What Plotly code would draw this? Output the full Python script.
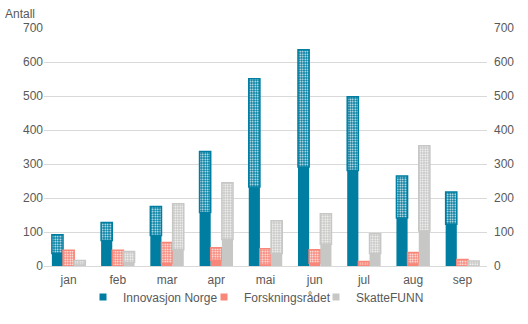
import plotly.graph_objects as go

months = ["jan", "feb", "mar", "apr", "mai", "jun", "jul", "aug", "sep"]
series = ["Innovasjon Norge", "Forskningsrådet", "SkatteFUNN"]
colors = ["#007ea1", "#f8877a", "#c7c8c6"]

# Total per month and the solid (lower) share of each total
totals = {
    "Innovasjon Norge": [92, 128, 175, 337, 551, 636, 498, 265, 218],
    "Forskningsrådet": [46, 46, 69, 54, 51, 48, 13, 40, 19],
    "SkatteFUNN": [16, 43, 183, 245, 133, 154, 95, 354, 15],
}
solid = {
    "Innovasjon Norge": [37, 75, 90, 157, 232, 291, 281, 141, 123],
    "Forskningsrådet": [0, 0, 7, 17, 3, 8, 2, 6, 0],
    "SkatteFUNN": [3, 11, 48, 78, 37, 64, 37, 103, 0],
}

text_color = "#595959"
grid_color = "#d9d9d9"
W, H = 528, 324

fig = go.Figure()
for i, (name, col) in enumerate(zip(series, colors)):
    lower = solid[name]
    upper = [t - s for t, s in zip(totals[name], lower)]
    fig.add_trace(go.Bar(
        x=months, y=lower, name=name, offsetgroup=str(i),
        marker=dict(color=col, line=dict(width=0)),
        showlegend=False,
    ))
    fig.add_trace(go.Bar(
        x=months, y=upper, base=lower, name=name, offsetgroup=str(i),
        marker=dict(
            color=col,
            line=dict(color=col, width=1.5),
            pattern=dict(shape=".", fgcolor="white", bgcolor=col,
                         size=2.5, solidity=0.35, fillmode="replace"),
        ),
        showlegend=False,
    ))

# one small legend per series so the keys sit close together
legend_ids = ["legend", "legend2", "legend3"]
legend_left = [83, 204, 316]
for name, col, lid in zip(series, colors, legend_ids):
    fig.add_trace(go.Scatter(
        x=[None], y=[None], mode="markers", name=name, legend=lid,
        marker=dict(symbol="square", size=7, color=col),
    ))

# invisible trace so the right-hand axis is drawn
fig.add_trace(go.Scatter(x=months, y=[0] * len(months), yaxis="y2",
                         mode="lines", line=dict(width=0),
                         showlegend=False, hoverinfo="skip"))

legend_style = dict(orientation="h", xref="container", yref="container",
                    xanchor="left", y=1 - 297 / H, yanchor="middle",
                    bgcolor="rgba(0,0,0,0)", itemwidth=30,
                    font=dict(size=12, color=text_color))

fig.update_layout(
    width=W, height=H,
    margin=dict(l=44, r=41, t=28, b=58, autoexpand=False),
    barmode="group", bargap=0.32, bargroupgap=0,
    plot_bgcolor="white", paper_bgcolor="white",
    font=dict(family="Liberation Sans, Arial, sans-serif", size=12, color=text_color),
    xaxis=dict(showgrid=False, showline=True, linecolor=grid_color, linewidth=1,
               ticks="", ticklabelstandoff=3, tickfont=dict(size=12, color=text_color)),
    yaxis=dict(range=[0, 700], dtick=100, showgrid=True, gridcolor=grid_color,
               gridwidth=1, zeroline=False, ticks="", showline=False,
               tickfont=dict(size=12, color=text_color)),
    yaxis2=dict(range=[0, 700], dtick=100, overlaying="y", side="right",
                showgrid=False, zeroline=False, ticks="", showline=False,
                ticklabelstandoff=6, tickfont=dict(size=12, color=text_color)),
    legend=dict(x=legend_left[0] / W, **legend_style),
    legend2=dict(x=legend_left[1] / W, **legend_style),
    legend3=dict(x=legend_left[2] / W, **legend_style),
    annotations=[dict(text="Antall", xref="paper", yref="paper", x=0, y=1,
                      xshift=-41, yshift=5, xanchor="left", yanchor="bottom",
                      showarrow=False, font=dict(size=12, color=text_color))],
)

fig.write_html("out.html")
